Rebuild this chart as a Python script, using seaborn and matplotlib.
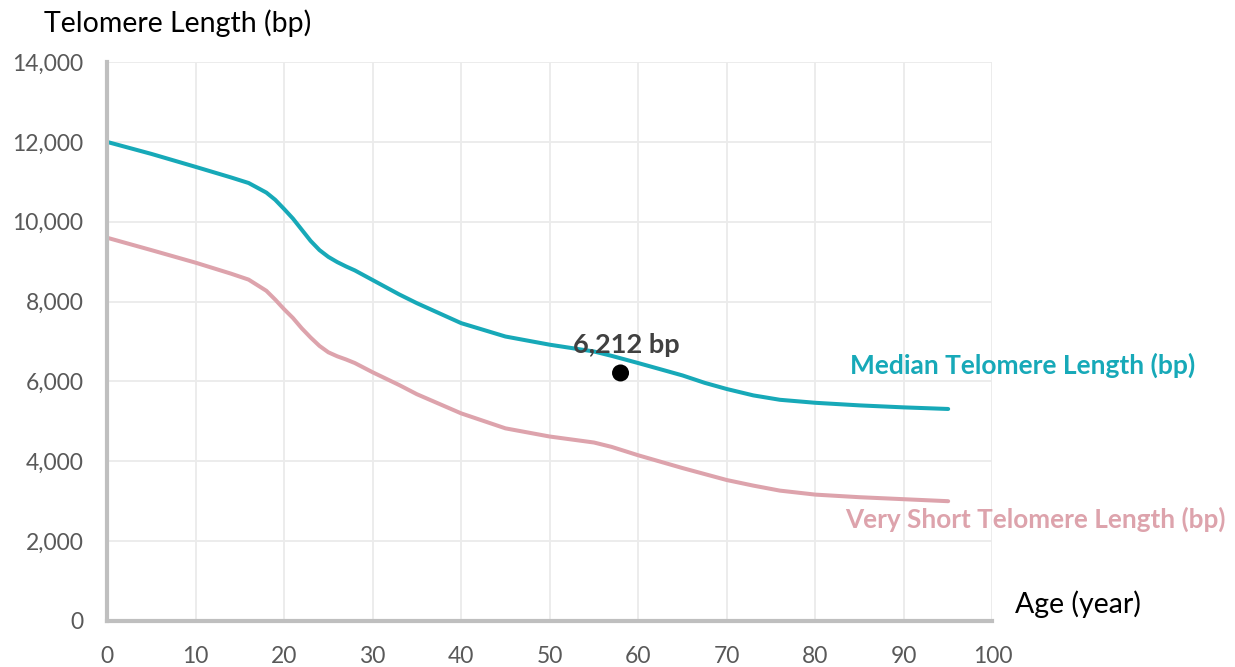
import matplotlib
matplotlib.use("Agg")
import matplotlib.pyplot as plt
import matplotlib.ticker as ticker
import seaborn as sns
import pandas as pd

# Datos (edad en años, longitud en pb)
edad = [0, 5, 10, 14, 16, 18, 19, 20, 21, 22, 23, 24, 25, 26, 27, 28, 30, 33, 35, 40, 45, 50, 55, 57, 60,
        65, 67.5, 70, 73, 76, 80, 85, 90, 95]
mediana = [12000, 11700, 11375, 11110, 10970, 10730, 10550, 10320, 10080, 9800, 9520, 9290, 9120, 8990,
           8880, 8780, 8540, 8180, 7960, 7460, 7125, 6920, 6750, 6640, 6460,
           6150, 5965, 5810, 5650, 5540, 5465, 5400, 5350, 5310]
muy_corta = [9600, 9290, 8975, 8700, 8550, 8270, 8050, 7810, 7590, 7330, 7100, 6890, 6730, 6630,
             6550, 6460, 6230, 5910, 5680, 5200, 4825, 4620, 4470, 4360, 4150,
             3830, 3680, 3530, 3390, 3265, 3165, 3100, 3050, 3000]

punto_edad = 58
punto_valor = 6212

xticks = list(range(0, 101, 10))
yticks = list(range(0, 14001, 2000))

df = pd.DataFrame({"Edad": edad, "Mediana": mediana, "Muy corta": muy_corta})

sns.set_style("white")
plt.rcParams["font.family"] = ["Lato", "DejaVu Sans"]

teal = "#17A9B8"
rosa = "#DDA3AC"
gris = "#BFBFBF"

fig = plt.figure(figsize=(12.35, 6.67), dpi=100)
ax = fig.add_axes([0.0866, 0.069, 0.717, 0.838])

sns.lineplot(data=df, x="Edad", y="Mediana", color=teal, linewidth=2.9, ax=ax,
             solid_joinstyle="round", solid_capstyle="round")
sns.lineplot(data=df, x="Edad", y="Muy corta", color=rosa, linewidth=2.9, ax=ax,
             solid_joinstyle="round", solid_capstyle="round")
sns.scatterplot(x=[punto_edad], y=[punto_valor], color="black", s=150, edgecolor="none", ax=ax, zorder=5)

ax.set_xlim(0, 100)
ax.set_ylim(0, 14000)
ax.set_xticks(xticks)
ax.set_yticks(yticks)
ax.yaxis.set_major_formatter(ticker.FuncFormatter(lambda v, p: f"{int(v):,}"))
ax.grid(True, color="#EBEBEB", linewidth=1.3)
ax.set_axisbelow(True)

for s in ["top", "right"]:
    ax.spines[s].set_visible(False)
for s in ["left", "bottom"]:
    ax.spines[s].set_color(gris)
    ax.spines[s].set_linewidth(3)
ax.tick_params(axis="both", direction="out", length=6, width=3, color=gris,
               labelcolor="#595959", labelsize=16.5)
ax.tick_params(axis="x", pad=12)
ax.tick_params(axis="y", pad=11)

ax.set_xlabel("")
ax.set_ylabel("")
fig.text(0.036, 0.965, "Telomere Length (bp)", fontsize=20.5, color="black", ha="left", va="center")
fig.text(0.822, 0.094, "Age (year)", fontsize=20.5, color="black", ha="left", va="center")

ax.text(58.7, 6900, f"{punto_valor:,} bp", fontsize=19.5, fontweight="bold", color="#404040",
        ha="center", va="center")
ax.text(83.9, 6400, "Median Telomere Length (bp)", fontsize=19, fontweight="bold", color=teal,
        ha="left", va="center", clip_on=False)
ax.text(83.4, 2550, "Very Short Telomere Length (bp)", fontsize=18.8, fontweight="bold", color=rosa,
        ha="left", va="center", clip_on=False)

fig.savefig("out.png", dpi=100)
